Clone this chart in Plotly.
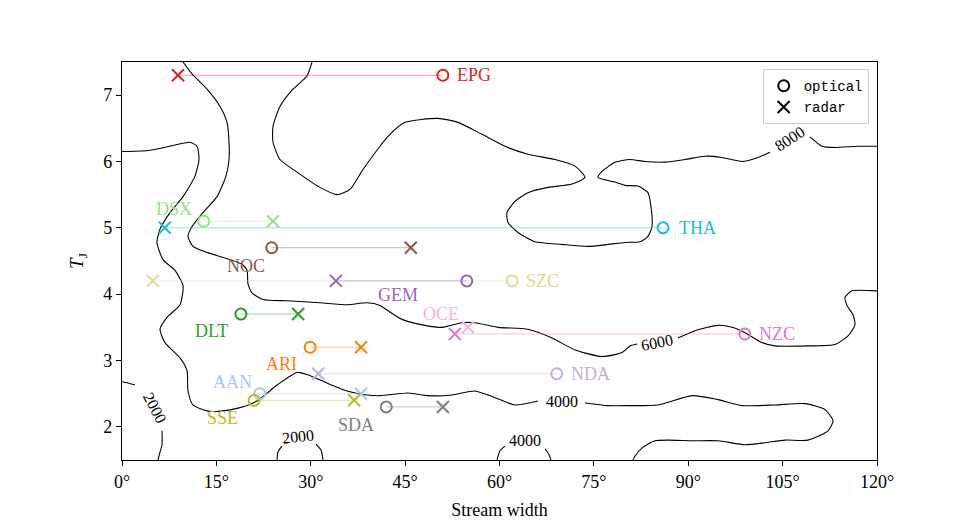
import plotly.graph_objects as go

# ---------------- data ----------------
streams = ["EPG", "THA", "DSX", "NOC", "SZC", "GEM", "DLT", "OCE", "NZC", "ARI", "NDA", "AAN", "SSE", "SDA"]
tj = [7.3, 5.0, 5.1, 4.7, 4.2, 4.2, 3.7, 3.5, 3.4, 3.2, 2.8, 2.5, 2.4, 2.3]
width_optical = [51.0, 86.0, 13.0, 23.8, 62.0, 54.8, 18.9, None, 99.0, 29.9, 69.1, 21.9, 21.0, 42.0]
width_radar = [8.9, 6.8, 24.0, 45.9, 4.9, 34.0, 28.0, 55.0, 52.9, 38.0, 31.2, 38.0, 36.9, 51.0]
colors = ["#d62728", "#17becf", "#98df8a", "#8c564b", "#dbdb8d", "#9467bd", "#2ca02c",
          "#f7b6d2", "#e377c2", "#ff7f0e", "#c5b0d5", "#aec7e8", "#bcbd22", "#7f7f7f"]

# contour lines (stream width [deg], T_J)
c6000_a_x = [9.70, 11.13, 13.51, 15.58, 16.69, 17.01, 17.01, 16.53, 15.10, 12.87, 11.13, 10.49, 11.28, 13.51,
             17.17, 19.07, 19.87, 20.03, 20.66, 22.41, 26.23, 31.47, 35.76, 38.94, 41.01, 42.28, 44.50, 48.16,
             50.86, 54.04, 56.11, 59.76, 64.53, 68.34, 72.00, 76.29, 79.47, 80.74, 81.9]
c6000_a_y = [7.5, 7.32, 7.09, 6.83, 6.59, 6.29, 6.03, 5.78, 5.47, 5.23, 5.02, 4.87, 4.72, 4.63,
             4.52, 4.45, 4.36, 4.15, 4.02, 3.92, 3.90, 3.87, 3.84, 3.87, 3.83, 3.75, 3.62, 3.53,
             3.50, 3.57, 3.57, 3.50, 3.47, 3.34, 3.16, 3.06, 3.12, 3.22, 3.25]
c6000_b_x = [88.37, 91.07, 94.73, 96.95, 99.02, 101.72, 103.79, 109.03, 113.32, 115.39, 116.50, 116.18,
             115.23, 114.91, 116.02, 120.0]
c6000_b_y = [3.34, 3.45, 3.53, 3.50, 3.42, 3.27, 3.22, 3.22, 3.24, 3.37, 3.54, 3.69,
             3.83, 3.95, 4.05, 4.05]

c8000_a_x = [30.20, 29.40, 27.18, 25.11, 24.00, 24.00, 25.11, 27.81, 31.47, 34.17, 36.24, 38.30, 41.01,
             42.28, 44.98, 50.22, 53.40, 57.22, 61.35, 64.53, 68.82, 72.00, 73.59, 71.52, 67.71, 64.53,
             62.46, 61.19, 61.35, 62.94, 65.64, 69.93, 74.07, 77.24, 79.95, 82.33, 83.60, 84.24, 84.08,
             83.60, 82.01, 79.95, 78.36, 75.65, 76.29, 78.36, 80.74, 83.12, 86.30, 89.48, 92.66, 95.36,
             98.54, 101.08, 102.99]
c8000_a_y = [7.5, 7.29, 7.09, 6.83, 6.53, 6.29, 6.03, 5.84, 5.61, 5.50, 5.58, 5.88, 6.23,
             6.38, 6.59, 6.65, 6.59, 6.41, 6.21, 6.11, 6.03, 5.93, 5.76, 5.66, 5.61, 5.53,
             5.40, 5.23, 5.08, 4.93, 4.79, 4.75, 4.72, 4.75, 4.78, 4.79, 4.87, 5.02, 5.32,
             5.53, 5.63, 5.64, 5.69, 5.76, 5.85, 5.99, 6.03, 6.00, 5.99, 6.03, 6.08, 6.06,
             6.00, 6.06, 6.14]
c8000_b_x = [109.35, 111.26, 113.32, 116.98, 120.0]
c8000_b_y = [6.37, 6.23, 6.21, 6.23, 6.23]

c4000_a_x = [0.0, 0.95, 4.45, 7.63, 10.81, 11.92, 12.24, 11.60, 9.70, 7.63, 6.04, 5.56, 6.52, 8.42, 9.70,
             9.22, 7.15, 6.04, 6.83, 9.22, 10.33, 10.49, 11.28, 13.51, 16.05, 18.75, 21.46, 24.64, 27.81,
             29.40, 32.58, 35.76, 38.94, 41.01, 45.46, 48.64, 52.45, 56.11, 59.28, 62.46, 66.12]
c4000_a_y = [6.15, 6.15, 6.17, 6.23, 6.29, 6.23, 6.03, 5.78, 5.47, 5.23, 4.98, 4.78, 4.52, 4.36, 4.13,
             3.84, 3.65, 3.47, 3.27, 3.04, 2.85, 2.54, 2.33, 2.24, 2.24, 2.29, 2.39, 2.63, 2.82,
             2.79, 2.66, 2.54, 2.48, 2.47, 2.51, 2.47, 2.48, 2.54, 2.44, 2.33, 2.39]
c4000_b_x = [73.59, 77.24, 80.74, 85.19, 90.59, 94.73, 98.54, 103.79, 108.56, 111.74, 113.01, 112.21,
             109.03, 105.38, 102.20, 99.02, 94.73, 90.59, 86.78, 84.71, 82.65, 81.54, 81.22]
c4000_b_y = [2.36, 2.32, 2.32, 2.33, 2.47, 2.41, 2.32, 2.33, 2.35, 2.26, 2.09, 1.94,
             1.80, 1.80, 1.76, 1.73, 1.79, 1.79, 1.80, 1.79, 1.68, 1.56, 1.5]
c4000_c_x = [59.60, 60.08, 60.87]
c4000_c_y = [1.5, 1.64, 1.71]
c4000_d_x = [67.23, 67.87, 68.18]
c4000_d_y = [1.67, 1.58, 1.5]

c2000_a_x = [0.0, 0.95, 2.07]
c2000_a_y = [2.68, 2.66, 2.63]
c2000_b_x = [6.36, 6.36, 6.04, 5.72]
c2000_b_y = [1.94, 1.73, 1.62, 1.5]
c2000_c_x = [24.64, 24.79, 25.43]
c2000_c_y = [1.5, 1.62, 1.71]
c2000_d_x = [30.83, 31.63, 31.95]
c2000_d_y = [1.74, 1.65, 1.5]

contour_labels = ["6000", "8000", "4000", "4000", "2000", "2000"]
contour_label_x = [85.0, 106.2, 69.9, 64.0, 5.2, 28.0]
contour_label_y = [3.27, 6.34, 2.38, 1.80, 2.29, 1.86]

x_ticks = [0, 15, 30, 45, 60, 75, 90, 105, 120]
y_ticks = [2, 3, 4, 5, 6, 7]

# ---------------- styling ----------------
FONT = "Liberation Serif"
contour_label_angles = [-11, -33, 0, 0, 62, -6]
# label offsets in pixels (dx, dy, anchor) relative to optical point (radar if no optical)
label_offsets = {
    "EPG": (12, 0, "left"), "THA": (14, 0, "left"), "SZC": (12, 0, "left"),
    "NZC": (12, 0, "left"), "NDA": (12, 0, "left"),
    "DSX": (-30, -12, "center"), "NOC": (-26, 18, "center"), "GEM": (-69, 14, "center"),
    "DLT": (-29, 17, "center"), "OCE": (-27, -13, "center"), "ARI": (-29, 17, "center"),
    "AAN": (-27, -12, "center"), "SSE": (-32, 18, "center"), "SDA": (-30, 18, "center"),
}


def rgba(hexc, a):
    h = hexc.lstrip("#")
    return "rgba(%d,%d,%d,%.2f)" % (int(h[0:2], 16), int(h[2:4], 16), int(h[4:6], 16), a)


fig = go.Figure()

segments = [(c6000_a_x, c6000_a_y), (c6000_b_x, c6000_b_y), (c8000_a_x, c8000_a_y), (c8000_b_x, c8000_b_y),
            (c4000_a_x, c4000_a_y), (c4000_b_x, c4000_b_y), (c4000_c_x, c4000_c_y), (c4000_d_x, c4000_d_y),
            (c2000_a_x, c2000_a_y), (c2000_b_x, c2000_b_y), (c2000_c_x, c2000_c_y), (c2000_d_x, c2000_d_y)]
for sx, sy in segments:
    fig.add_trace(go.Scatter(x=sx, y=sy, mode="lines", line=dict(color="black", width=1.1, shape="spline", smoothing=0.6),
                             showlegend=False, hoverinfo="skip"))

for lab, lx, ly, ang in zip(contour_labels, contour_label_x, contour_label_y, contour_label_angles):
    fig.add_annotation(x=lx, y=ly, text=lab, showarrow=False, textangle=ang,
                       font=dict(family=FONT, size=16, color="black"))

for name, y, xo, xr, c in zip(streams, tj, width_optical, width_radar, colors):
    if xo is not None:
        fig.add_trace(go.Scatter(x=[xr, xo], y=[y, y], mode="lines", line=dict(color=rgba(c, 0.45), width=1),
                                 showlegend=False, hoverinfo="skip"))
        fig.add_trace(go.Scatter(x=[xo], y=[y], mode="markers",
                                 marker=dict(symbol="circle-open", size=11, color=c, line=dict(width=2, color=c)),
                                 showlegend=False))
    fig.add_trace(go.Scatter(x=[xr], y=[y], mode="markers",
                             marker=dict(symbol="x-thin-open", size=12, color=c, line=dict(width=2, color=c)),
                             showlegend=False))
    dx, dy, anchor = label_offsets[name]
    ax = xo if xo is not None else xr
    fig.add_annotation(x=ax, y=y, text=name, showarrow=False, xshift=dx, yshift=-dy,
                       xanchor=anchor, yanchor="middle", font=dict(family=FONT, size=18, color=c))

# legend entries
fig.add_trace(go.Scatter(x=[None], y=[None], mode="markers", name="optical",
                         marker=dict(symbol="circle-open", size=11, color="black", line=dict(width=2, color="black"))))
fig.add_trace(go.Scatter(x=[None], y=[None], mode="markers", name="radar",
                         marker=dict(symbol="x-thin-open", size=12, color="black", line=dict(width=2, color="black"))))

axis_common = dict(showgrid=False, zeroline=False, showline=True, linecolor="black", linewidth=1.2, mirror=True,
                   ticks="outside", ticklen=5, tickwidth=1, tickcolor="black", automargin=False,
                   tickfont=dict(family=FONT, size=18, color="black"))
fig.update_xaxes(range=[0, 120], tickvals=x_ticks, ticktext=["%d°" % v for v in x_ticks],
                 title=dict(text="Stream width", font=dict(family=FONT, size=18, color="black"), standoff=12),
                 **axis_common)
fig.update_yaxes(range=[1.5, 7.5], tickvals=y_ticks, ticktext=[str(v) for v in y_ticks],
                 title=dict(text="<i>T</i><sub>J</sub>", font=dict(family=FONT, size=19, color="black"), standoff=14),
                 **axis_common)

fig.update_layout(
    width=975, height=525, margin=dict(l=122, r=98, t=62, b=65, autoexpand=False),
    plot_bgcolor="white", paper_bgcolor="white",
    legend=dict(x=0.989, y=0.982, xanchor="right", yanchor="top", bgcolor="rgba(255,255,255,0.85)",
                bordercolor="#cccccc", borderwidth=1, font=dict(family="Liberation Mono", size=14, color="black"),
                itemwidth=30, tracegroupgap=0),
    showlegend=True,
)

fig.write_html("out.html")
